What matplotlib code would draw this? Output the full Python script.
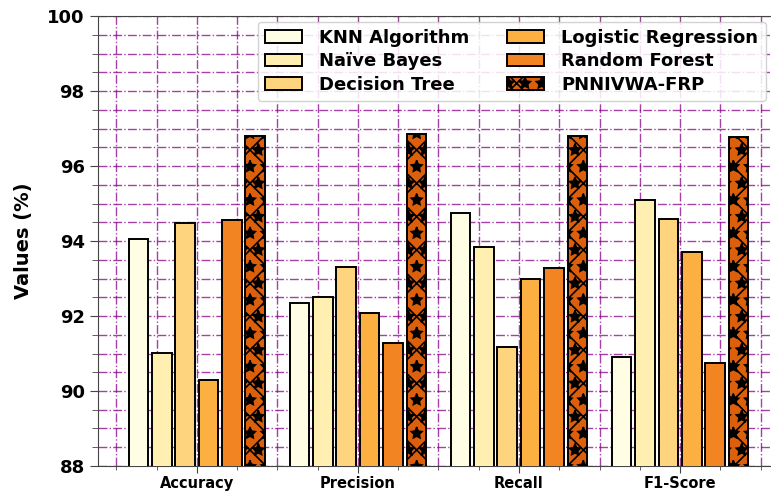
import matplotlib
matplotlib.use("Agg")
import matplotlib.pyplot as plt
import numpy as np
from matplotlib.ticker import MultipleLocator

categories = ["Accuracy", "Precision", "Recall", "F1-Score"]
methods = ["KNN Algorithm", "Naïve Bayes", "Decision Tree",
           "Logistic Regression", "Random Forest", "PNNIVWA-FRP"]
knn = [94.05, 92.34, 94.74, 90.90]
nb = [91.02, 92.50, 93.85, 95.10]
dt = [94.47, 93.30, 91.18, 94.59]
lr = [90.29, 92.09, 92.99, 93.70]
rf = [94.56, 91.29, 93.27, 90.74]
pnn = [96.80, 96.85, 96.80, 96.77]
series = [knn, nb, dt, lr, rf, pnn]
colors = ["#fffde4", "#fff0b2", "#fed57e", "#fdb042", "#f38422", "#dc5f0b"]
hatches = [None, None, None, None, None, "x*"]

plt.rcParams["hatch.linewidth"] = 1.2

fig = plt.figure(figsize=(7.71, 4.91), dpi=100)
ax = fig.add_axes([0.127, 0.051, 0.873, 0.916])

x = np.arange(len(categories))
step = 0.145
width = 0.122
for i, (vals, c, h) in enumerate(zip(series, colors, hatches)):
    ax.bar(x + (i - 2.5) * step, vals, width, color=c, edgecolor="black",
           linewidth=1.4, hatch=h, label=methods[i], zorder=3)

ax.set_ylim(88, 100)
ax.set_xlim(-0.615, 3.565)
ax.set_xticks(x)
ax.set_xticklabels(categories, fontsize=10.5, fontweight="bold")
ax.xaxis.set_minor_locator(MultipleLocator(0.25))
ax.yaxis.set_major_locator(MultipleLocator(2))
ax.yaxis.set_minor_locator(MultipleLocator(0.5))
ax.tick_params(axis="y", which="major", labelsize=13, length=6, color="#444444")
ax.tick_params(axis="y", which="minor", length=4, color="#444444")
ax.tick_params(axis="x", which="major", length=5, pad=2, color="#444444")
ax.tick_params(axis="x", which="minor", length=3, color="#444444")
for lab in ax.get_yticklabels():
    lab.set_fontweight("bold")
ax.set_ylabel("Values (%)", fontsize=14, fontweight="bold", labelpad=10)
ax.grid(True, which="both", color="#880088", linestyle="-.", linewidth=1.0,
        alpha=0.75, zorder=0)
ax.set_axisbelow(True)
for s in ["left", "top", "bottom", "right"]:
    ax.spines[s].set_color("#444444")
ax.spines["right"].set_visible(False)

leg = ax.legend(ncol=2, loc="upper right", prop={"weight": "bold", "size": 13},
                handlelength=2.05, handletextpad=0.95, columnspacing=2.1,
                borderaxespad=0.3, labelspacing=0.3, framealpha=0.85)
leg.set_zorder(5)

fig.savefig("out.png", dpi=100)
